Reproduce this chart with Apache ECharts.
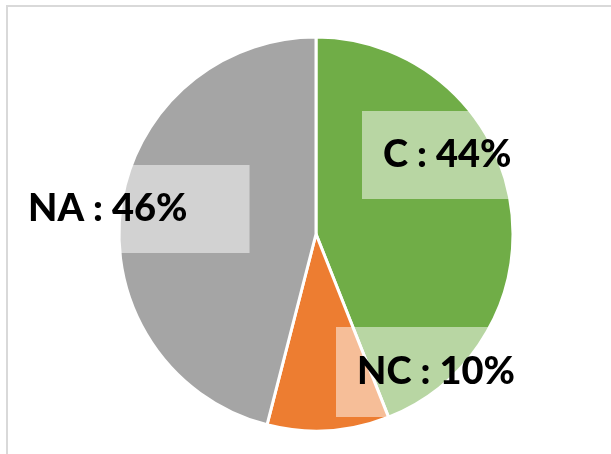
<!DOCTYPE html>
<html>
<head>
<meta charset="utf-8">
<script src="https://cdn.jsdelivr.net/npm/echarts@6/dist/echarts.min.js"></script>
<style>
  html, body { margin: 0; padding: 0; background: #fff; }
  #chart { width: 611px; height: 454px; }
</style>
</head>
<body>
<div id="chart"></div>
<script>
const categories = ['C', 'NC', 'NA']
const shares = [44, 10, 46]
const sliceColors = ['#70AD47', '#ED7D31', '#A5A5A5']

// where each label box sits (left edge, vertical middle) and its padding
const labelSpots = [
  { x: 362, y: 155, pad: [24, 20, 24, 21] },
  { x: 336, y: 372, pad: [25, 30, 25, 21] },
  { x: 8, y: 209, pad: [24, 62, 24, 20] },
]

const chart = echarts.init(document.getElementById('chart'))
const option = {
  animation: false,
  graphic: [
    {
      type: 'rect',
      shape: { x: 7, y: 6, width: 700, height: 600 },
      style: { fill: 'none', stroke: '#D9D9D9', lineWidth: 2 },
      silent: true,
    },
  ],
  series: [
    {
      type: 'pie',
      center: [316, 234],
      radius: 197,
      startAngle: 90,
      clockwise: true,
      itemStyle: { borderColor: '#fff', borderWidth: 3 },
      label: {
        show: true,
        position: 'inside',
        formatter: '{b} : {d}%',
        color: '#000',
        fontFamily: 'Lato',
        fontWeight: 900,
        fontSize: 38,
        lineHeight: 40,
        backgroundColor: 'rgba(255,255,255,0.5)',
      },
      labelLine: { show: false },
      labelLayout: function (params) {
        const spot = labelSpots[params.dataIndex]
        return { x: spot.x, y: spot.y, align: 'left', verticalAlign: 'middle' }
      },
      data: categories.map(function (name, i) {
        return {
          name: name,
          value: shares[i],
          itemStyle: { color: sliceColors[i] },
          label: { padding: labelSpots[i].pad },
        }
      }),
    },
  ],
}
chart.setOption(option)
</script>
</body>
</html>
